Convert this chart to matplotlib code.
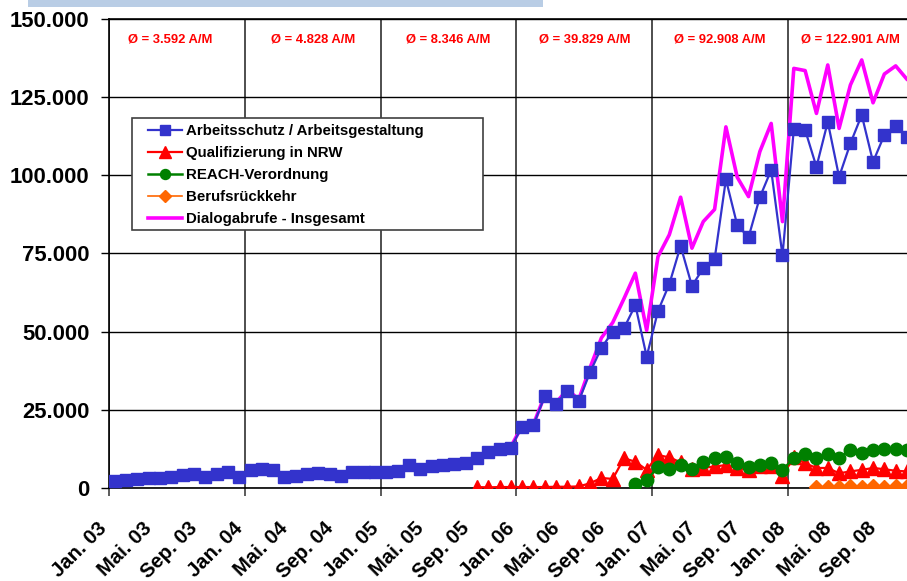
import numpy as np
import matplotlib.pyplot as plt
from matplotlib.patches import Rectangle
from matplotlib.ticker import FuncFormatter
from matplotlib.transforms import ScaledTranslation

plt.rcParams['font.family'] = ['Liberation Sans', 'DejaVu Sans']
plt.rcParams['font.weight'] = 'bold'

# --- Daten: monatliche Abrufe Jan. 03 bis Dez. 08 ---
nan = np.nan
arbeitsschutz = [
    2200, 2600, 3000, 3200, 3300, 3400, 4200, 4500, 3500, 4600, 5000, 3400,
    5800, 6000, 5600, 3600, 3800, 4400, 4800, 4600, 3800, 5000, 5200, 5000,
    5100, 5300, 7300, 6000, 7000, 7200, 7600, 7900, 9500, 11500, 12500, 12900,
    19600, 20100, 29400, 26900, 31100, 27800, 37000, 44800, 50000, 51100, 58500, 42000,
    56600, 65200, 77400, 64600, 70300, 73100, 98700, 84100, 80200, 93000, 101700, 74400,
    114700, 114500, 102700, 117100, 99500, 110200, 119300, 104300, 112900, 115800, 112300, 110000,
]
qualifizierung = [nan] * 32 + [
    300, 200, 300, 300,
    300, 300, 300, 400, 400, 500, 1500, 3200, 2900, 9500, 8400, 5800,
    10500, 9800, 8200, 6000, 6400, 6900, 7300, 6400, 5800, 6900, 6900, 3800,
    9900, 7900, 6400, 6400, 4700, 5300, 5800, 6400, 6000, 5500, 5300, 5000,
]
reach = [nan] * 46 + [
    1300, 2600,
    6600, 6000, 7400, 6000, 8400, 9500, 9800, 7900, 6600, 7400, 8100, 5800,
    9500, 10900, 9500, 10900, 9500, 12200, 11200, 12000, 12400, 12400, 12200, 12300,
]
berufsrueckkehr = [nan] * 62 + [300, 400, 400, 500, 400, 500, 400, 500, 500, 500]
insgesamt = [
    2200, 2600, 3000, 3200, 3300, 3400, 4200, 4500, 3500, 4600, 5000, 3400,
    5800, 6000, 5600, 3600, 3800, 4400, 4800, 4600, 3800, 5000, 5200, 5000,
    5100, 5300, 7300, 6000, 7000, 7200, 7600, 7900, 9800, 11700, 12800, 13200,
    19900, 20400, 29700, 27300, 31500, 28300, 38500, 48000, 52900, 60600, 68700, 50400,
    74000, 81000, 93000, 76700, 85200, 89100, 115500, 99400, 93200, 107600, 116600, 85200,
    134200, 133500, 119800, 135300, 115000, 128900, 136900, 123200, 132400, 135000, 130700, 128000,
]

monate = ['Jan.', 'Mai.', 'Sep.']
jahre = ['03', '04', '05', '06', '07', '08']
mittelwerte = ['3.592', '4.828', '8.346', '39.829', '92.908', '122.901']

# --- Figur ---
fig = plt.figure(figsize=(9.07, 5.81), dpi=100)
ax = fig.add_axes([0.1202, 0.1601, 0.8798, 0.8072])

x = np.arange(len(arbeitsschutz)) + 0.5

ax.plot(x, insgesamt, color='#FF00FF', lw=2.6, zorder=3, label='Dialogabrufe - Insgesamt')
ax.plot(x, arbeitsschutz, color='#3333CC', lw=1.6, marker='s', ms=9, zorder=4,
        label='Arbeitsschutz / Arbeitsgestaltung')
ax.plot(x, qualifizierung, color='#FF0000', lw=1.6, marker='^', ms=10.5, zorder=4,
        label='Qualifizierung in NRW')
ax.plot(x, reach, color='#008000', lw=1.8, marker='o', ms=9, zorder=4,
        label='REACH-Verordnung')
ax.plot(x, berufsrueckkehr, color='#FF6600', lw=1.2, marker='D', ms=7.5, zorder=4,
        label='Berufsrückkehr')

ax.set_xlim(0, 70.5)
ax.set_ylim(0, 150000)

# Achsen / Gitter
ax.set_yticks(np.arange(0, 150001, 25000))
ax.yaxis.set_major_formatter(FuncFormatter(lambda v, p: f"{v:,.0f}".replace(',', '.')))
ax.tick_params(axis='y', length=6, width=1, pad=8, labelsize=15.8, direction='out')
ax.grid(axis='y', color='black', lw=1)

ax.set_xticks(x[::4])
ax.set_xticklabels([m + ' ' + j for j in jahre for m in monate], rotation=45,
                   ha='right', fontsize=14.6)
ax.set_xticks(np.arange(0, 72, 12), minor=True)
ax.tick_params(axis='x', which='major', length=0, pad=22)
ax.tick_params(axis='x', which='minor', length=6, width=1.2, color='#404040')
ax.grid(axis='x', which='minor', color='#404040', lw=1.3)
ax.set_axisbelow(True)

# Beschriftung etwas nach links schieben
shift = ScaledTranslation(-4 / 100, 0, fig.dpi_scale_trans)
for lab in ax.get_xticklabels():
    lab.set_transform(lab.get_transform() + shift)

for s in ['left', 'top', 'bottom']:
    ax.spines[s].set_color('black')
    ax.spines[s].set_linewidth(1.2)
ax.spines['right'].set_visible(False)

# Jahresmittel
mx = [5.4, 18.0, 30.0, 42.0, 54.0, 65.5]
for xp, mw in zip(mx, mittelwerte):
    ax.text(xp, 143300, 'Ø = ' + mw + ' A/M', color='#FF0000', fontsize=9.4,
            fontweight='bold', ha='center', va='center')

# Legende mit eigenem Rahmen
ax.add_patch(Rectangle((0.0288, 0.550), 0.44, 0.239, transform=ax.transAxes,
                       facecolor='white', edgecolor='#404040', lw=1.2, zorder=5))
h, l = ax.get_legend_handles_labels()
order = [1, 2, 3, 4, 0]
leg = ax.legend([h[i] for i in order], [l[i] for i in order], loc='upper left',
                bbox_to_anchor=(0.0489, 0.776), frameon=False, borderpad=0,
                borderaxespad=0, fontsize=10.8, handlelength=2.27,
                handletextpad=0.27, labelspacing=0.53, markerscale=0.8)
leg.set_zorder(6)
for t in leg.get_texts():
    t.set_fontweight('bold')

# hellblauer Balken oben
fig.patches.append(Rectangle((28 / 907, 1 - 7 / 581), (543 - 28) / 907, 7 / 581,
                             transform=fig.transFigure, facecolor='#B9CDE5',
                             edgecolor='none'))

fig.savefig('out.png', dpi=100)
